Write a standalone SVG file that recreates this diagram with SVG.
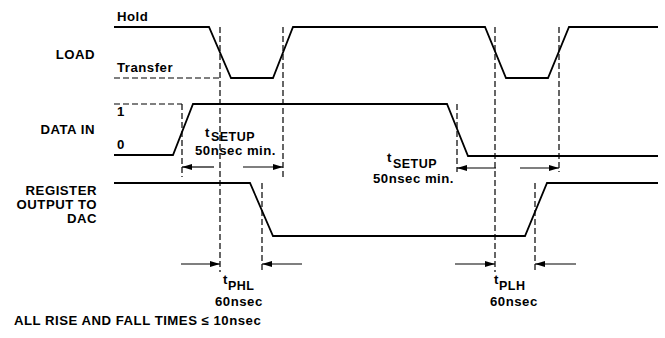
<svg xmlns="http://www.w3.org/2000/svg" width="665" height="338" viewBox="0 0 665 338">
<defs>
<marker id="ah" viewBox="0 0 10 6" refX="10" refY="3" markerWidth="10" markerHeight="6" markerUnits="userSpaceOnUse" orient="auto">
<path d="M0,0 L10,3 L0,6 Z" fill="#000"/>
</marker>
</defs>
<style>
text{font-family:"Liberation Sans",Arial,sans-serif;font-size:13.2px;font-weight:bold;letter-spacing:0.5px;fill:#000}
.sub{font-size:12.5px}
.sig{fill:none;stroke:#000;stroke-width:1.8;stroke-linejoin:miter}
.dash{fill:none;stroke:#000;stroke-width:1.2;stroke-dasharray:6,3}
.arr{fill:none;stroke:#000;stroke-width:1.2;marker-end:url(#ah)}
</style>
<rect width="665" height="338" fill="#fff"/>
<g id="labels">
<text x="117" y="21">Hold</text>
<text x="117" y="72">Transfer</text>
<text x="95" y="59" text-anchor="end">LOAD</text>
<text x="95" y="134" text-anchor="end">DATA IN</text>
<text x="117" y="116">1</text>
<text x="117" y="149">0</text>
<text x="97" y="195" text-anchor="end" letter-spacing="0">REGISTER</text>
<text x="97" y="209" text-anchor="end" letter-spacing="0">OUTPUT TO</text>
<text x="97" y="223" text-anchor="end" letter-spacing="0">DAC</text>
<text x="14" y="325">ALL RISE AND FALL TIMES ≤ 10nsec</text>
</g>
<g id="load">
<path class="sig" d="M114,27 H209 L231,78 H273 L293,27 H485 L506,78 H548 L569,27 H658"/>
<path class="dash" d="M114,78 H220"/>
</g>
<g id="datain">
<path class="sig" d="M114,155 H173 L193,104 H447 L468,156 H658"/>
<path class="dash" d="M114,104 H182"/>
</g>
<g id="register">
<path class="sig" d="M114,183 H250 L273,236 H525 L547,183 H658"/>
</g>
<g id="connectors">
<path class="dash" d="M220,27 V272"/>
<path class="dash" d="M283,27 V177"/>
<path class="dash" d="M495,27 V272"/>
<path class="dash" d="M559,27 V172"/>
<path class="dash" d="M182,104 V177"/>
<path class="dash" d="M457,104 V172"/>
<path class="dash" d="M262,183 V272"/>
<path class="dash" d="M535,183 V272"/>
<path class="arr" d="M214,167 H182"/>
<path class="arr" d="M243,167 H283"/>
<path class="arr" d="M496,168 H457"/>
<path class="arr" d="M520,168 H559"/>
<path class="arr" d="M181,264 H220"/>
<path class="arr" d="M302,264 H262"/>
<path class="arr" d="M455,264 H495"/>
<path class="arr" d="M576,264 H535"/>
</g>
<g id="timing-labels">
<text x="205" y="137">t<tspan class="sub" dx="1" dy="4">SETUP</tspan></text>
<text x="195" y="155">50nsec min.</text>
<text x="387" y="162">t<tspan class="sub" dx="1" dy="6">SETUP</tspan></text>
<text x="373" y="183">50nsec min.</text>
<text x="223" y="284">t<tspan class="sub" dy="6">PHL</tspan></text>
<text x="215" y="306">60nsec</text>
<text x="494" y="284">t<tspan class="sub" dy="6">PLH</tspan></text>
<text x="490" y="306">60nsec</text>
</g>
</svg>
